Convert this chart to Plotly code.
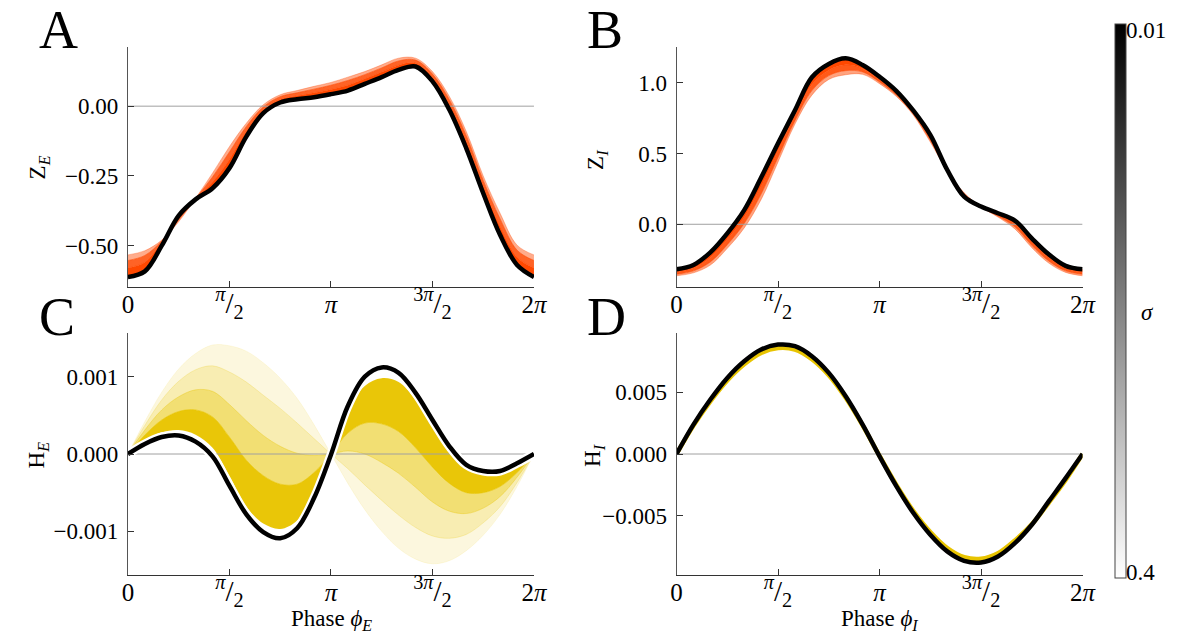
import numpy as np
import plotly.graph_objects as go

# ---------------- data ----------------
# phase samples, in units of pi
phase_pi = [0.0, 0.0833, 0.1667, 0.25, 0.3333, 0.4167, 0.5, 0.5833, 0.6667, 0.75,
            0.8333, 0.9167, 1.0, 1.0833, 1.1667, 1.25, 1.3333, 1.4167, 1.5, 1.5833,
            1.6667, 1.75, 1.8333, 1.9167, 2.0]

# Panel A : Z_E
ZE_black = [-0.612, -0.592, -0.500, -0.392, -0.334, -0.294, -0.222, -0.109, -0.025, 0.013,
            0.025, 0.032, 0.043, 0.056, 0.080, 0.104, 0.130, 0.142, 0.089, -0.013,
            -0.151, -0.312, -0.462, -0.569, -0.612]
ZE_sig_a = [-0.580, -0.559, -0.487, -0.400, -0.332, -0.272, -0.191, -0.090, -0.013, 0.024,
            0.037, 0.048, 0.060, 0.075, 0.098, 0.122, 0.147, 0.154, 0.103, 0.006,
            -0.127, -0.287, -0.431, -0.541, -0.580]
ZE_sig_b = [-0.553, -0.535, -0.483, -0.408, -0.331, -0.254, -0.164, -0.073, -0.003, 0.034,
            0.048, 0.061, 0.075, 0.092, 0.113, 0.137, 0.162, 0.165, 0.115, 0.023,
            -0.106, -0.266, -0.404, -0.516, -0.553]
ZE_sig_c = [-0.533, -0.518, -0.480, -0.414, -0.330, -0.240, -0.145, -0.061, 0.005, 0.041,
            0.056, 0.071, 0.085, 0.104, 0.124, 0.148, 0.172, 0.172, 0.124, 0.035,
            -0.091, -0.250, -0.384, -0.498, -0.533]

# Panel B : Z_I
ZI_black = [-0.318, -0.287, -0.198, -0.064, 0.100, 0.330, 0.572, 0.805, 1.038, 1.132,
            1.172, 1.125, 1.042, 0.941, 0.802, 0.631, 0.384, 0.195, 0.125, 0.078,
            0.026, -0.099, -0.212, -0.294, -0.318]
ZI_sig_a = [-0.336, -0.309, -0.234, -0.106, 0.050, 0.268, 0.519, 0.766, 0.988, 1.088,
            1.126, 1.099, 1.022, 0.925, 0.789, 0.611, 0.381, 0.206, 0.124, 0.067,
            0.002, -0.125, -0.237, -0.312, -0.336]
ZI_sig_b = [-0.353, -0.329, -0.266, -0.144, 0.006, 0.214, 0.473, 0.732, 0.944, 1.050,
            1.085, 1.076, 1.005, 0.912, 0.778, 0.594, 0.379, 0.215, 0.123, 0.058,
            -0.018, -0.149, -0.259, -0.329, -0.353]
ZI_sig_c = [-0.364, -0.343, -0.288, -0.170, -0.026, 0.175, 0.440, 0.708, 0.912, 1.023,
            1.056, 1.059, 0.993, 0.902, 0.770, 0.581, 0.377, 0.222, 0.122, 0.051,
            -0.033, -0.165, -0.274, -0.340, -0.364]

# Panel C : H_E  (units of 1e-3)
HE_black = [0.0, 0.13, 0.22, 0.24, 0.16, -0.03, -0.41, -0.78, -1.01, -1.09,
            -0.96, -0.57, -0.01, 0.62, 1.00, 1.12, 1.05, 0.79, 0.44, 0.10,
            -0.14, -0.22, -0.22, -0.12, 0.0]
HE_sig_0 = [0.0, 0.17, 0.28, 0.31, 0.25, 0.08, -0.28, -0.68, -0.90, -0.97,
            -0.86, -0.50, 0.0, 0.55, 0.88, 0.98, 0.93, 0.70, 0.36, 0.05,
            -0.18, -0.27, -0.27, -0.16, 0.0]
HE_sig_1 = [0.0, 0.245, 0.44, 0.55, 0.57, 0.48, 0.22, -0.08, -0.28, -0.39,
            -0.39, -0.24, 0.0, 0.27, 0.40, 0.39, 0.29, 0.08, -0.17, -0.38,
            -0.50, -0.50, -0.42, -0.24, 0.0]
HE_sig_2 = [0.0, 0.31, 0.57, 0.74, 0.83, 0.81, 0.64, 0.43, 0.24, 0.10,
            0.01, -0.02, 0.0, 0.04, 0.0, -0.11, -0.25, -0.43, -0.62, -0.74,
            -0.77, -0.70, -0.55, -0.30, 0.0]
HE_sig_3 = [0.0, 0.37, 0.70, 0.94, 1.09, 1.14, 1.06, 0.93, 0.76, 0.59,
            0.40, 0.20, 0.0, -0.19, -0.40, -0.60, -0.79, -0.95, -1.06, -1.09,
            -1.04, -0.89, -0.68, -0.37, 0.0]
HE_sig_4 = [0.0, 0.42, 0.80, 1.10, 1.30, 1.41, 1.40, 1.33, 1.18, 0.98,
            0.72, 0.38, 0.0, -0.38, -0.72, -1.00, -1.22, -1.36, -1.42, -1.38,
            -1.25, -1.05, -0.78, -0.42, 0.0]

# Panel D : H_I  (units of 1e-3)
HI_black = [0.0, 2.38, 4.41, 6.16, 7.51, 8.46, 8.86, 8.73, 7.92, 6.57,
            4.68, 2.38, -0.19, -2.62, -4.78, -6.54, -7.89, -8.65, -8.78, -8.30,
            -7.22, -5.73, -3.84, -1.95, 0.0]
HI_sig = [0.0, 2.30, 4.27, 5.96, 7.27, 8.19, 8.58, 8.46, 7.68, 6.38,
          4.55, 2.32, -0.16, -2.52, -4.62, -6.32, -7.62, -8.36, -8.49, -8.04,
          -7.00, -5.70, -3.95, -2.10, 0.0]

sigma_range = ["0.01", "0.4"]
x_tickvals_pi = [0, 0.5, 1, 1.5, 2]
x_ticktext = ["0",
              "<span style='font-size:29px'><sup><i>π</i></sup>/<sub>2</sub></span>",
              "<i>π</i>",
              "<span style='font-size:29px'><sup>3<i>π</i></sup>/<sub>2</sub></span>",
              "2<i>π</i>"]

# ---------------- figure ----------------
W, H = 1189, 635
FONT = "Liberation Serif"
ORANGE = "255,72,0"
YELLOW = "232,196,0"

x = np.array(phase_pi) * np.pi
milli = 1e-3

fig = go.Figure()


def add_fan(curves, alphas, rgb, xa, ya):
    fig.add_trace(go.Scatter(x=x, y=curves[0], mode="lines", line=dict(width=0, shape="spline"),
                             xaxis=xa, yaxis=ya, showlegend=False, hoverinfo="skip"))
    for c, a in zip(curves[1:], alphas):
        fig.add_trace(go.Scatter(x=x, y=c, mode="lines",
                                 line=dict(width=0.6, shape="spline",
                                           color=f"rgba({rgb},{min(1, a * 1.2)})"),
                                 fill="tonexty", fillcolor=f"rgba({rgb},{a})",
                                 xaxis=xa, yaxis=ya, showlegend=False, hoverinfo="skip"))


def add_zero(xa, ya):
    fig.add_trace(go.Scatter(x=[0, 2 * np.pi], y=[0, 0], mode="lines",
                             line=dict(color="#a0a0a0", width=1),
                             xaxis=xa, yaxis=ya, showlegend=False, hoverinfo="skip"))


def add_black(y, xa, ya, halo=False):
    if halo:
        fig.add_trace(go.Scatter(x=x, y=y, mode="lines",
                                 line=dict(color="white", width=9, shape="spline"),
                                 xaxis=xa, yaxis=ya, showlegend=False, hoverinfo="skip"))
    fig.add_trace(go.Scatter(x=x, y=y, mode="lines",
                             line=dict(color="black", width=4.5, shape="spline"),
                             xaxis=xa, yaxis=ya, showlegend=False, hoverinfo="skip"))


# A
add_fan([ZE_black, ZE_sig_a, ZE_sig_b, ZE_sig_c], [1.0, 0.85, 0.45], ORANGE, "x", "y")
add_zero("x", "y")
add_black(ZE_black, "x", "y")

# B
add_fan([ZI_black, ZI_sig_a, ZI_sig_b, ZI_sig_c], [1.0, 0.9, 0.5], ORANGE, "x2", "y2")
add_zero("x2", "y2")
add_black(ZI_black, "x2", "y2")

# C
add_fan([np.array(HE_sig_0) * milli, np.array(HE_sig_1) * milli, np.array(HE_sig_2) * milli,
         np.array(HE_sig_3) * milli, np.array(HE_sig_4) * milli],
        [0.97, 0.55, 0.3, 0.13], YELLOW, "x3", "y3")
add_zero("x3", "y3")
add_black(np.array(HE_black) * milli, "x3", "y3", halo=True)

# D
fig.add_trace(go.Scatter(x=x, y=np.array(HI_sig) * milli, mode="lines",
                         line=dict(color=f"rgb({YELLOW})", width=4.5, shape="spline"),
                         xaxis="x4", yaxis="y4", showlegend=False, hoverinfo="skip"))
add_zero("x4", "y4")
add_black(np.array(HI_black) * milli, "x4", "y4")

# colorbar (dummy trace)
cbar = dict(thickness=11, len=554 / H, lenmode="fraction",
            y=1 - 301 / H, yanchor="middle",
            x=1128 / W, xanchor="left", xpad=0, ypad=0,
            outlinewidth=1, outlinecolor="#444",
            showticklabels=False, ticks="")
fig.add_trace(go.Scatter(x=[None], y=[None], mode="markers", xaxis="x", yaxis="y",
                         showlegend=False,
                         marker=dict(color=[0], cmin=0, cmax=1,
                                     colorscale=[[0, "white"], [1, "black"]],
                                     showscale=True, colorbar=cbar)))


def px_x(p):
    return p / W


def px_y(p):
    return 1 - p / H


xdomA = [px_x(124), px_x(537)]
xdomB = [px_x(682), px_x(1095)]
ydomTop = [px_y(287), px_y(47)]
ydomBot = [px_y(575), px_y(333)]

tickfont = dict(family=FONT, size=23, color="black")
xtickfont = dict(family=FONT, size=25, color="black")


def xaxis(dom, anchor):
    return dict(domain=dom, anchor=anchor, range=[0, 2 * np.pi], tickmode="array",
                tickvals=[v * np.pi for v in x_tickvals_pi], ticktext=x_ticktext,
                ticks="inside", ticklen=6, tickwidth=1, tickcolor="#333",
                showline=True, linecolor="#333", linewidth=1, showgrid=False, zeroline=False,
                tickfont=xtickfont, ticklabelstandoff=-5, fixedrange=True)


def yaxis(dom, anchor, rng, vals, texts):
    return dict(domain=dom, anchor=anchor, range=rng, tickmode="array", tickvals=vals,
                ticktext=texts,
                ticks="inside", ticklen=6, tickwidth=1, tickcolor="#333",
                showline=True, linecolor="#555", linewidth=1, showgrid=False, zeroline=False,
                tickfont=tickfont, ticklabelstandoff=4, fixedrange=True)


fig.update_layout(
    width=W, height=H, margin=dict(l=0, r=0, t=0, b=0),
    paper_bgcolor="white", plot_bgcolor="white", showlegend=False,
    font=dict(family=FONT, size=23, color="black"),
    xaxis=xaxis(xdomA, "y"),
    yaxis=yaxis(ydomTop, "x", [-0.648, 0.212], [0.0, -0.25, -0.5], ["0.00", "−0.25", "−0.50"]),
    xaxis2=xaxis(xdomB, "y2"),
    yaxis2=yaxis(ydomTop, "x2", [-0.443, 1.252], [1.0, 0.5, 0.0], ["1.0", "0.5", "0.0"]),
    xaxis3=xaxis(xdomA, "y3"),
    yaxis3=yaxis(ydomBot, "x3", [-1.565e-3, 1.565e-3], [1e-3, 0.0, -1e-3],
                 ["0.001", "0.000", "−0.001"]),
    xaxis4=xaxis(xdomB, "y4"),
    yaxis4=yaxis(ydomBot, "x4", [-9.8e-3, 9.8e-3], [5e-3, 0.0, -5e-3],
                 ["0.005", "0.000", "−0.005"]),
)

ann = []


def add_text(text, xp, yp, size=23, angle=0, xanchor="center"):
    ann.append(dict(text=text, x=px_x(xp), y=px_y(yp), xref="paper", yref="paper",
                    xanchor=xanchor, yanchor="middle", showarrow=False, textangle=angle,
                    borderpad=0, font=dict(family=FONT, size=size, color="black")))


# panel letters
add_text("A", 33, 30, size=54, xanchor="left")
add_text("B", 590, 30, size=54, xanchor="left")
add_text("C", 33, 317, size=54, xanchor="left")
add_text("D", 590, 317, size=54, xanchor="left")
# axis titles
add_text("Z<sub><i>E</i></sub>", 34, 167, angle=-90)
add_text("Z<sub><i>I</i></sub>", 601, 160, angle=-90)
add_text("H<sub><i>E</i></sub>", 33, 455, angle=-90)
add_text("H<sub><i>I</i></sub>", 598, 455, angle=-90)
add_text("Phase <i>ϕ</i><sub><i>E</i></sub>", 331, 620)
add_text("Phase <i>ϕ</i><sub><i>I</i></sub>", 888, 620)
# colorbar labels
add_text(sigma_range[0], 1138, 31, xanchor="left")
add_text(sigma_range[1], 1138, 572, xanchor="left")
add_text("<i>σ</i>", 1161, 312)

fig.update_layout(annotations=ann)

fig.write_html("out.html")
